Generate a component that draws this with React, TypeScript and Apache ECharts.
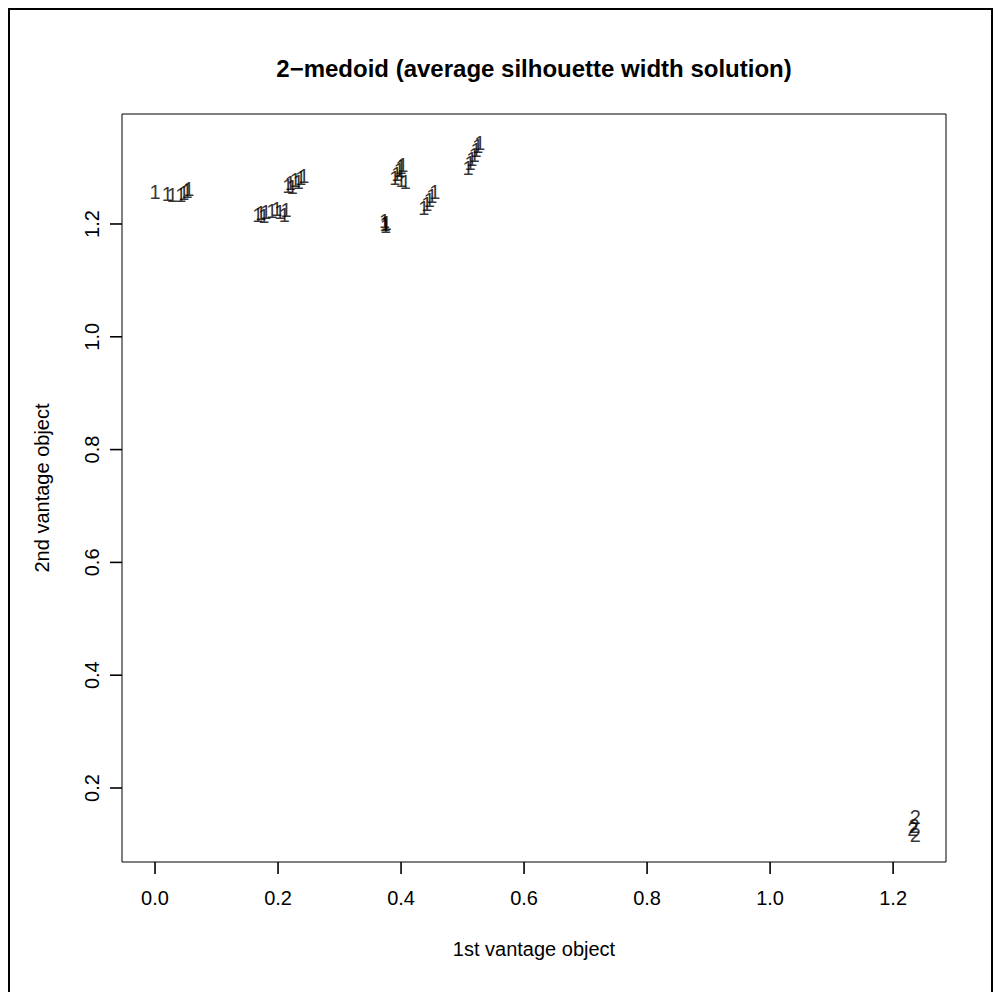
import React, { useEffect, useRef } from "react";
import * as echarts from "echarts";

const titleText = "2\u2212medoid (average silhouette width solution)";
const xTitle = "1st vantage object";
const yTitle = "2nd vantage object";

const xTicks = [0, 0.2, 0.4, 0.6, 0.8, 1.0, 1.2];
const yTicks = [0.2, 0.4, 0.6, 0.8, 1.0, 1.2];

const cluster1X = [
  0.0, 0.02, 0.028, 0.042, 0.047, 0.052, 0.055,
  0.167, 0.172, 0.177, 0.18, 0.19, 0.198, 0.203, 0.21, 0.213,
  0.216, 0.22, 0.223, 0.228, 0.233, 0.237, 0.242,
  0.373, 0.374, 0.375, 0.376,
  0.39, 0.393, 0.397, 0.4, 0.403, 0.4, 0.407,
  0.437, 0.442, 0.446, 0.45, 0.455,
  0.509, 0.512, 0.515, 0.519, 0.522, 0.525, 0.528,
];
const cluster1Y = [
  1.257, 1.253, 1.251, 1.251, 1.255, 1.259, 1.262,
  1.216, 1.22, 1.214, 1.221, 1.223, 1.227, 1.221, 1.216, 1.225,
  1.267, 1.273, 1.266, 1.278, 1.274, 1.282, 1.285,
  1.205, 1.2, 1.197, 1.202,
  1.282, 1.289, 1.296, 1.301, 1.305, 1.278, 1.274,
  1.228, 1.235, 1.243, 1.25, 1.257,
  1.299, 1.308, 1.315, 1.322, 1.331, 1.338, 1.344,
];
const cluster2X = [1.236, 1.234, 1.232, 1.236];
const cluster2Y = [0.148, 0.133, 0.128, 0.117];

const X_MIN = -0.0537;
const X_MAX = 1.286;
const Y_MIN = 0.0688;
const Y_MAX = 1.395;

const FONT = "Liberation Sans, Arial, Helvetica, sans-serif";

export default function App() {
  const ref = useRef<HTMLDivElement>(null);
  useEffect(() => {
    if (!ref.current) return;
    const chart = echarts.init(ref.current, null, { renderer: "svg" });
    const gridLeft = 122, gridTop = 114, gridW = 824, gridH = 748;
    const TICK = 12;
    const pts1 = cluster1X.map((x, i) => [x, cluster1Y[i]]);
    const pts2 = cluster2X.map((x, i) => [x, cluster2Y[i]]);
    const labelStyle = (txt: string) => ({
      show: true,
      position: "inside" as const,
      formatter: txt,
      color: "#000",
      textBorderWidth: 0,
      fontSize: 20,
      fontFamily: FONT,
    });
    const hiddenAxis = {
      type: "value" as const,
      show: false,
      splitLine: { show: false },
      axisLine: { show: false, onZero: false },
      axisTick: { show: false },
      axisLabel: { show: false },
    };
    chart.setOption({
      animation: false,
      backgroundColor: "#fff",
      color: ["#000", "#000", "#000", "#000"],
      grid: [
        {
          left: gridLeft,
          top: gridTop,
          width: gridW,
          height: gridH,
          show: true,
          borderColor: "#000",
          borderWidth: 1,
          backgroundColor: "transparent",
        },
        { left: gridLeft - 1, top: gridTop + gridH, width: gridW + 2, height: TICK, show: false },
        { left: gridLeft - TICK, top: gridTop - 1, width: TICK, height: gridH + 2, show: false },
      ],
      xAxis: [
        {
          type: "value",
          gridIndex: 0,
          min: X_MIN,
          max: X_MAX,
          splitLine: { show: false },
          axisLine: { show: false, onZero: false },
          axisTick: { show: false },
          axisLabel: {
            show: true,
            customValues: xTicks,
            formatter: (v: number) => v.toFixed(1),
            color: "#000",
            fontSize: 20,
            fontFamily: FONT,
            margin: 26,
          },
        },
        { ...hiddenAxis, gridIndex: 1, min: X_MIN - 1 / 615, max: X_MAX + 1 / 615 },
        { ...hiddenAxis, gridIndex: 2, min: 0, max: 1 },
      ],
      yAxis: [
        {
          type: "value",
          gridIndex: 0,
          min: Y_MIN,
          max: Y_MAX,
          splitLine: { show: false },
          axisLine: { show: false, onZero: false },
          axisTick: { show: false },
          axisLabel: {
            show: true,
            customValues: yTicks,
            formatter: (v: number) => v.toFixed(1),
            color: "#000",
            fontSize: 20,
            fontFamily: FONT,
            rotate: 90,
            margin: 20,
          },
        },
        { ...hiddenAxis, gridIndex: 1, min: 0, max: 1 },
        { ...hiddenAxis, gridIndex: 2, min: Y_MIN - 1 / 564, max: Y_MAX + 1 / 564 },
      ],
      series: [
        {
          type: "scatter",
          xAxisIndex: 0,
          yAxisIndex: 0,
          data: pts1,
          symbolSize: 0,
          itemStyle: { color: "#000" },
          label: labelStyle("1"),
          emphasis: { disabled: true },
        },
        {
          type: "scatter",
          xAxisIndex: 0,
          yAxisIndex: 0,
          data: pts2,
          symbolSize: 0,
          itemStyle: { color: "#000" },
          label: labelStyle("2"),
          emphasis: { disabled: true },
        },
        {
          type: "scatter",
          xAxisIndex: 1,
          yAxisIndex: 1,
          data: xTicks.map((v) => [v, 0.5]),
          symbol: "rect",
          symbolSize: [1.6, TICK],
          clip: false,
          itemStyle: { color: "#000", opacity: 1 },
          silent: true,
          emphasis: { disabled: true },
          z: 10,
        },
        {
          type: "scatter",
          xAxisIndex: 2,
          yAxisIndex: 2,
          data: yTicks.map((v) => [0.5, v]),
          symbol: "rect",
          symbolSize: [TICK, 1.6],
          clip: false,
          itemStyle: { color: "#000", opacity: 1 },
          silent: true,
          emphasis: { disabled: true },
          z: 10,
        },
      ],
      graphic: [
        {
          type: "rect",
          z: -10,
          shape: { x: 9, y: 9, width: 983, height: 1000 },
          style: { fill: null, stroke: "#000", lineWidth: 2 },
          silent: true,
        },
        {
          type: "text",
          x: gridLeft + gridW / 2,
          y: 68,
          style: {
            text: titleText,
            fontSize: 24,
            fontWeight: "bold",
            fontFamily: FONT,
            fill: "#000",
            align: "center",
            verticalAlign: "middle",
          },
        },
        {
          type: "text",
          x: gridLeft + gridW / 2,
          y: 949,
          style: {
            text: xTitle,
            fontSize: 20,
            fontFamily: FONT,
            fill: "#000",
            align: "center",
            verticalAlign: "middle",
          },
        },
        {
          type: "text",
          x: 42,
          y: gridTop + gridH / 2,
          rotation: Math.PI / 2,
          style: {
            text: yTitle,
            fontSize: 20,
            fontFamily: FONT,
            fill: "#000",
            align: "center",
            verticalAlign: "middle",
          },
        },
      ],
    });
    return () => chart.dispose();
  }, []);
  return (
    <div
      ref={ref}
      style={{ position: "fixed", left: 0, top: 0, width: 995, height: 992 }}
    />
  );
}
